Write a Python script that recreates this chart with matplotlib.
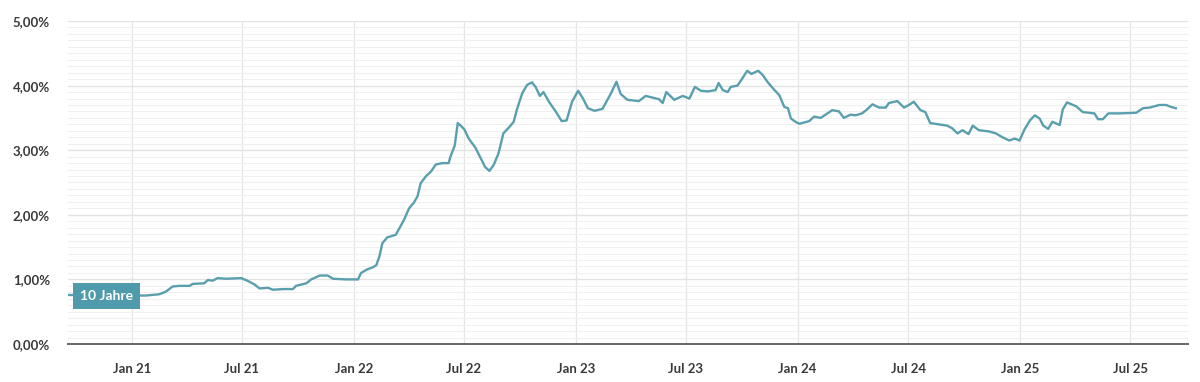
import matplotlib
matplotlib.use("Agg")
import matplotlib.pyplot as plt
import matplotlib.ticker as mticker
import pandas as pd

# 10-year yield
dates = [
    "2020-09-18", "2020-10-15", "2020-11-15", "2020-12-15", "2021-01-05",
    "2021-01-24", "2021-02-15", "2021-02-26", "2021-03-09", "2021-03-20",
    "2021-04-06", "2021-04-11", "2021-04-30", "2021-05-06", "2021-05-14",
    "2021-05-22", "2021-06-05", "2021-06-30", "2021-07-11", "2021-07-22",
    "2021-07-30", "2021-08-13", "2021-08-21", "2021-09-06", "2021-09-23",
    "2021-09-28", "2021-10-15", "2021-10-23", "2021-11-06", "2021-11-19",
    "2021-11-28", "2021-12-20", "2021-12-31", "2022-01-08", "2022-01-13",
    "2022-01-22", "2022-02-02", "2022-02-07", "2022-02-12", "2022-02-17",
    "2022-02-25", "2022-03-11", "2022-03-17", "2022-03-25", "2022-04-02",
    "2022-04-10", "2022-04-16", "2022-04-21", "2022-04-30", "2022-05-08",
    "2022-05-16", "2022-05-27", "2022-06-06", "2022-06-09", "2022-06-16",
    "2022-06-21", "2022-06-27", "2022-07-02", "2022-07-09", "2022-07-20",
    "2022-07-28", "2022-08-05", "2022-08-12", "2022-08-19", "2022-08-27",
    "2022-09-04", "2022-09-13", "2022-09-21", "2022-09-26", "2022-10-05",
    "2022-10-13", "2022-10-21", "2022-10-27", "2022-11-03", "2022-11-09",
    "2022-11-18", "2022-11-29", "2022-12-09", "2022-12-17", "2022-12-26",
    "2023-01-05", "2023-01-13", "2023-01-21", "2023-02-01", "2023-02-14",
    "2023-02-28", "2023-03-09", "2023-03-16", "2023-03-27", "2023-04-15",
    "2023-04-26", "2023-05-18", "2023-05-24", "2023-05-30", "2023-06-12",
    "2023-06-26", "2023-07-07", "2023-07-16", "2023-07-26", "2023-08-06",
    "2023-08-19", "2023-08-24", "2023-08-31", "2023-09-08", "2023-09-13",
    "2023-09-24", "2023-10-02", "2023-10-10", "2023-10-17", "2023-10-28",
    "2023-11-04", "2023-11-13", "2023-11-24", "2023-12-02", "2023-12-10",
    "2023-12-16", "2023-12-21", "2023-12-30", "2024-01-04", "2024-01-20",
    "2024-01-28", "2024-02-08", "2024-02-27", "2024-03-09", "2024-03-17",
    "2024-03-28", "2024-04-05", "2024-04-16", "2024-04-24", "2024-05-03",
    "2024-05-14", "2024-05-25", "2024-05-30", "2024-06-13", "2024-06-24",
    "2024-07-02", "2024-07-10", "2024-07-21", "2024-07-29", "2024-08-06",
    "2024-08-20", "2024-09-03", "2024-09-11", "2024-09-20", "2024-09-28",
    "2024-10-08", "2024-10-15", "2024-10-25", "2024-11-11", "2024-11-22",
    "2024-12-03", "2024-12-14", "2024-12-23", "2024-12-31", "2025-01-08",
    "2025-01-17", "2025-01-25", "2025-02-02", "2025-02-08", "2025-02-16",
    "2025-02-23", "2025-03-07", "2025-03-12", "2025-03-19", "2025-04-03",
    "2025-04-14", "2025-05-03", "2025-05-09", "2025-05-17", "2025-05-26",
    "2025-06-14", "2025-07-11", "2025-07-22", "2025-08-02", "2025-08-18",
    "2025-08-29", "2025-09-06", "2025-09-14",
]
yields = [
    0.76, 0.75, 0.75, 0.74, 0.75,
    0.75, 0.77, 0.81, 0.89, 0.90,
    0.90, 0.93, 0.94, 0.99, 0.98,
    1.02, 1.01, 1.02, 0.975, 0.92,
    0.86, 0.87, 0.84, 0.85, 0.85,
    0.90, 0.94, 1.00, 1.06, 1.06,
    1.01, 1.00, 1.00, 1.00, 1.10,
    1.15, 1.19, 1.22, 1.35, 1.56,
    1.65, 1.69, 1.79, 1.93, 2.10,
    2.19, 2.29, 2.49, 2.60, 2.67,
    2.78, 2.80, 2.80, 2.90, 3.07,
    3.42, 3.37, 3.32, 3.18, 3.04,
    2.89, 2.74, 2.68, 2.77, 2.95,
    3.26, 3.35, 3.44, 3.62, 3.88,
    4.01, 4.05, 3.98, 3.84, 3.90,
    3.75, 3.60, 3.45, 3.46, 3.75,
    3.92, 3.80, 3.65, 3.61, 3.64,
    3.88, 4.06, 3.87, 3.78, 3.76,
    3.84, 3.79, 3.73, 3.90, 3.78,
    3.84, 3.80, 3.98, 3.92, 3.91,
    3.93, 4.04, 3.93, 3.90, 3.98,
    4.00, 4.11, 4.23, 4.18, 4.23,
    4.17, 4.05, 3.93, 3.85, 3.67,
    3.65, 3.49, 3.43, 3.41, 3.45,
    3.52, 3.50, 3.62, 3.60, 3.50,
    3.55, 3.54, 3.57, 3.63, 3.71,
    3.66, 3.66, 3.73, 3.76, 3.66,
    3.70, 3.75, 3.62, 3.59, 3.42,
    3.40, 3.38, 3.34, 3.26, 3.31,
    3.25, 3.38, 3.31, 3.29, 3.26,
    3.20, 3.15, 3.18, 3.15, 3.32,
    3.46, 3.54, 3.49, 3.38, 3.33,
    3.44, 3.39, 3.63, 3.74, 3.68,
    3.59, 3.57, 3.48, 3.48, 3.57,
    3.57, 3.58, 3.65, 3.66, 3.70,
    3.70, 3.67, 3.65,
]
series_label = "10 Jahre"
tick_dates = ["2021-01-01", "2021-07-01", "2022-01-01", "2022-07-01", "2023-01-01",
              "2023-07-01", "2024-01-01", "2024-07-01", "2025-01-01", "2025-07-01"]
tick_labels = ["Jan 21", "Jul 21", "Jan 22", "Jul 22", "Jan 23",
               "Jul 23", "Jan 24", "Jul 24", "Jan 25", "Jul 25"]

x = pd.to_datetime(dates)
teal = "#5a9fad"
text_col = "#3a3a3a"

plt.rcParams["font.family"] = ["Lato", "DejaVu Sans"]

fig = plt.figure(figsize=(12, 3.82), dpi=100)
ax = fig.add_axes([68 / 1200, 38 / 382, 1120 / 1200, 323 / 382])

ax.plot(x, yields, color=teal, lw=1.7, solid_joinstyle="round", zorder=3)

ax.set_xlim(pd.Timestamp("2020-09-18"), pd.Timestamp("2025-10-04"))
ax.set_ylim(0, 5)

ax.yaxis.set_major_locator(mticker.MultipleLocator(1))
ax.yaxis.set_minor_locator(mticker.MultipleLocator(0.1))
ax.yaxis.set_major_formatter(mticker.FuncFormatter(lambda v, p: f"{v:.2f}%".replace(".", ",")))
ax.set_xticks(pd.to_datetime(tick_dates))
ax.set_xticklabels(tick_labels)

ax.grid(which="major", axis="y", color="#e3e3e3", lw=1.0)
ax.grid(which="minor", axis="y", color="#f0f0f0", lw=0.8)
ax.grid(which="major", axis="x", color="#e6e6e6", lw=0.9)
ax.set_axisbelow(True)

for s in ["top", "right", "left"]:
    ax.spines[s].set_visible(False)
ax.spines["bottom"].set_color("#666666")
ax.spines["bottom"].set_linewidth(1.4)

ax.tick_params(axis="both", which="both", length=0)
ax.tick_params(axis="x", pad=14, labelsize=9.5, labelcolor=text_col)
ax.tick_params(axis="y", pad=13, labelsize=9.5, labelcolor=text_col)
for lab in ax.get_xticklabels() + ax.get_yticklabels():
    lab.set_fontweight("bold")

# series label box sitting on the start of the line
ax.text(x[0] + pd.Timedelta(days=20), yields[0] - 0.02, series_label, color="white",
        fontsize=10, fontweight="bold", va="center", ha="left", zorder=5,
        bbox=dict(boxstyle="square,pad=0.5", fc="#4f9aab", ec="none"))

fig.savefig("out.png", dpi=100)
